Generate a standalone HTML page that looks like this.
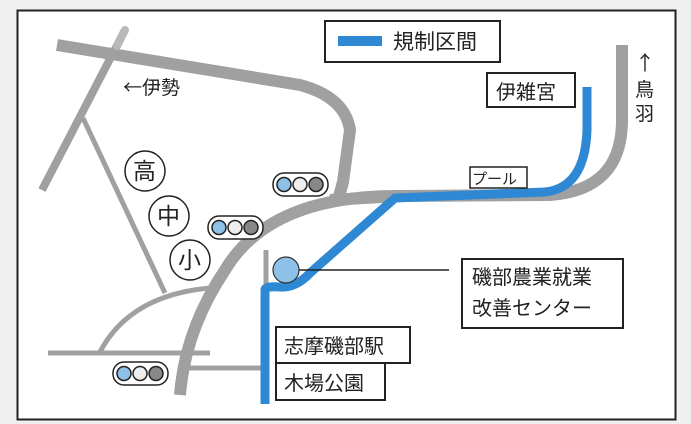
<!DOCTYPE html>
<html><head><meta charset="utf-8"><style>
body{margin:0;width:691px;height:424px;background:#f0f0f0;overflow:hidden}
svg{position:absolute;left:0;top:0}
text{font-family:"Liberation Sans","Noto Sans CJK JP",sans-serif;fill:#222}
.cj{font-family:"Noto Sans CJK JP",sans-serif}
</style></head><body>
<svg width="691" height="424" viewBox="0 0 691 424">
<rect x="17.5" y="10.5" width="658" height="409" fill="#fff" stroke="#222" stroke-width="2"/>
<g fill="none" stroke="#a0a0a0" stroke-linecap="butt">
<path d="M57 45 L300 85 Q345 97 350 130 L343 182 L338 200" stroke-width="12"/>
<path d="M125 30 L42 190" stroke-width="8"/>
<path d="M83 118 L165 293" stroke-width="5"/>
<path d="M210 288 Q130 295 100 352" stroke-width="5"/>
<path d="M48 353 L210 353" stroke-width="5"/>
<path d="M188 368 L262 368" stroke-width="5"/>
<path d="M266 250 L266 285" stroke-width="5"/>
<path d="M400 196 Q270 195 225 270 Q185 330 180 395" stroke-width="12"/>
<path d="M330 200 L400 196 L550 195 Q622 190 622 120 L622 45" stroke-width="12"/>
</g>
<path d="M125 30 L117 46" stroke="#b8b8b8" stroke-width="8" stroke-linecap="round"/>
<path d="M265 404 L265 290 Q265 286 280 287 Q296 288 310 273 L395 198 L545 192 Q585 188 587 130 L587 87" fill="none" stroke="#2e88d4" stroke-width="9"/>
<line x1="299" y1="270" x2="449" y2="270" stroke="#222" stroke-width="1.5"/>
<circle cx="286" cy="270" r="13" fill="#8ec1e8" stroke="#333" stroke-width="1.2"/>
<rect x="325" y="21" width="175" height="41" fill="#fff" stroke="#222" stroke-width="2"/>
<line x1="338" y1="41" x2="382" y2="41" stroke="#2e88d4" stroke-width="10"/>
<text x="393" y="49" font-size="21">規制区間</text>
<text x="123" y="94" font-size="19" class="cj">←伊勢</text>
<rect x="487" y="73" width="88" height="34" fill="#fff" stroke="#222" stroke-width="2"/>
<text x="496" y="99" font-size="20">伊雑宮</text>
<rect x="470" y="167" width="57" height="21" fill="#fff" stroke="#222" stroke-width="1.5"/>
<text x="472" y="184" font-size="15">プール</text>
<text x="635" y="70" font-size="20" class="cj">↑</text>
<text x="635" y="96" font-size="19">鳥</text>
<text x="635" y="120" font-size="19">羽</text>
<g fill="#fff" stroke="#222" stroke-width="1.5">
<circle cx="145" cy="171" r="20"/><circle cx="169" cy="216" r="20"/><circle cx="190" cy="260" r="20"/>
</g>
<text x="133" y="179" font-size="23">高</text>
<text x="157" y="224" font-size="23">中</text>
<text x="178" y="268" font-size="23">小</text>
<g stroke="#222" stroke-width="1.5">
<rect x="273" y="173" width="55" height="23" rx="11" fill="#fff"/>
<circle cx="284" cy="184.5" r="7" fill="#8ec1e8"/><circle cx="300" cy="184.5" r="7" fill="#eee"/><circle cx="316" cy="184.5" r="7" fill="#888"/>
<rect x="208" y="216" width="55" height="23" rx="11" fill="#fff"/>
<circle cx="219" cy="227.5" r="7" fill="#8ec1e8"/><circle cx="235" cy="227.5" r="7" fill="#eee"/><circle cx="251" cy="227.5" r="7" fill="#888"/>
<rect x="113" y="362" width="55" height="23" rx="11" fill="#fff"/>
<circle cx="124" cy="373.5" r="7" fill="#8ec1e8"/><circle cx="140" cy="373.5" r="7" fill="#eee"/><circle cx="156" cy="373.5" r="7" fill="#888"/>
</g>
<rect x="276" y="327" width="134" height="36" fill="#fff" stroke="#222" stroke-width="2"/>
<text x="284" y="353" font-size="20">志摩磯部駅</text>
<rect x="276" y="363" width="109" height="37" fill="#fff" stroke="#222" stroke-width="2"/>
<text x="284" y="390" font-size="20">木場公園</text>
<rect x="462" y="259" width="161" height="69" fill="#fff" stroke="#222" stroke-width="2"/>
<text x="472" y="284" font-size="20">磯部農業就業</text>
<text x="472" y="315" font-size="20">改善センター</text>
</svg>
</body></html>
